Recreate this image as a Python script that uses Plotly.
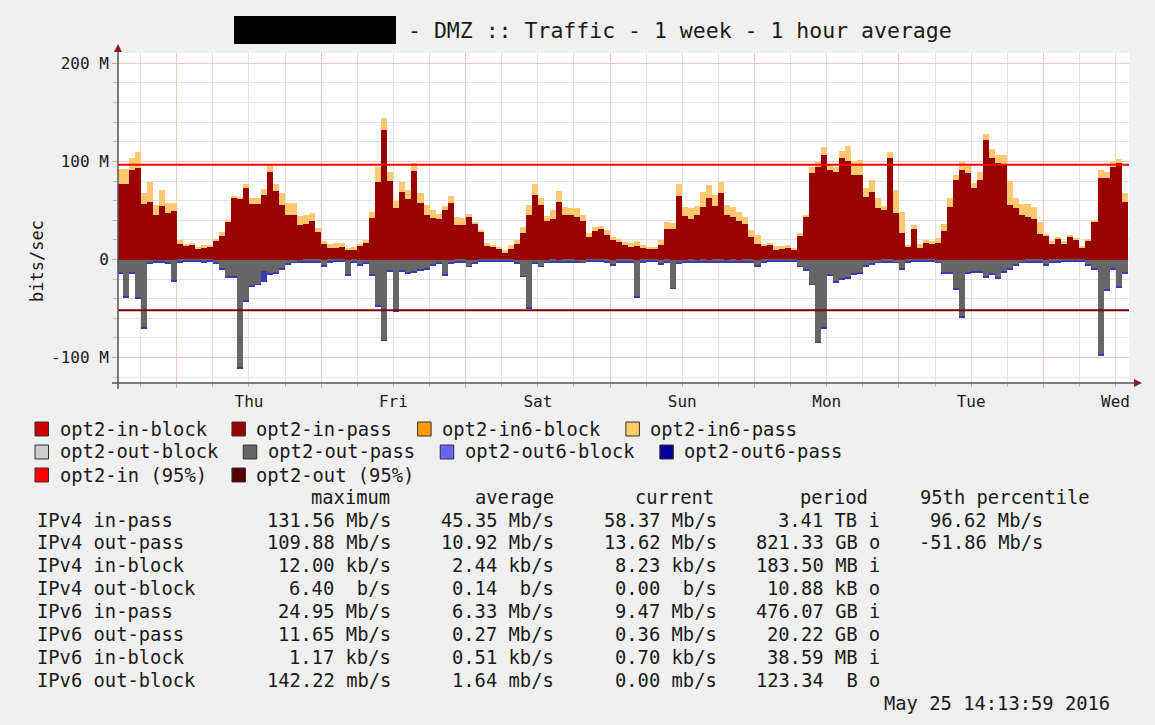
import pandas as pd
import plotly.graph_objects as go

FONT = "DejaVu Sans Mono"
TXT = "#1a1a1a"

# ---------------- data (Mb/s, one bar per hour) ----------------
hours = pd.date_range("2016-05-18 14:00", periods=168, freq="h")
range_start = "2016-05-18 14:13:59"
range_end = "2016-05-25 14:13:59"

in_pass = [
    76.6, 76.6, 91.3, 93.7, 56.1, 58.8, 45.1, 54.4, 47.9, 49.6,
    15.4, 13.7, 14.4, 10.9, 12.0, 13.0, 18.5, 23.6, 38.3, 62.2, 61.5, 72.5, 56.1, 56.1, 65.6, 88.9, 69.7, 55.4, 45.8, 45.8, 35.6, 36.6, 39.0, 28.0,
    16.1, 11.6, 11.6, 12.3, 9.2, 9.2, 13.7, 17.1, 42.4, 79.3, 131.56, 80.0, 52.6, 69.1, 61.5, 90.3, 58.1, 45.1, 42.4, 41.7, 50.3, 57.8, 35.6, 35.6,
    43.4, 36.6, 28.7, 13.7, 12.6, 10.9, 7.5, 10.9, 16.1, 27.4, 45.1, 65.6, 55.4, 39.0, 41.0, 58.8, 45.1, 45.1, 43.4, 39.0, 22.9, 28.7, 30.8, 25.3,
    19.5, 17.8, 15.0, 12.6, 13.7, 11.6, 10.3, 10.3, 15.0, 30.8, 31.5, 65.0, 44.4, 41.7, 45.8, 53.7, 62.9, 54.7, 67.4, 45.8, 43.4, 39.0, 36.6, 22.9,
    16.1, 13.7, 14.4, 9.2, 10.3, 11.6, 10.3, 23.6, 43.4, 87.9, 94.7, 106.7, 91.3, 89.6, 103.9, 100.5, 86.2, 86.2, 63.9, 69.1, 52.6, 50.3, 103.2, 47.9,
    27.4, 12.6, 31.5, 11.6, 17.1, 16.1, 17.1, 28.7, 53.7, 81.0, 91.3, 87.9, 72.5, 81.0, 122.1, 103.9, 98.1, 97.1, 55.4, 52.6, 45.8, 43.4, 41.7, 26.3,
    24.6, 16.1, 20.5, 16.1, 22.9, 19.5, 11.6, 18.5, 38.3, 82.7, 82.7, 94.7, 98.1, 58.37,
]

in6_pass = [
    15.4, 15.4, 12.6, 15.4, 11.3, 19.8, 10.3, 16.0, 9.2, 7.5,
    4.8, 2.4, 2.4, 1.7, 2.4, 2.0, 2.7, 4.4, 2.4, 2.8, 2.4, 4.1, 6.1, 6.8, 6.2, 6.8, 6.9, 12.0, 11.3, 11.3, 8.8, 9.2, 8.5, 4.1,
    2.4, 4.5, 4.8, 4.8, 2.4, 3.1, 2.4, 2.4, 6.1, 15.4, 12.3, 8.9, 6.9, 9.5, 9.3, 7.8, 9.3, 10.3, 7.9, 4.8, 4.4, 7.2, 7.8, 6.8,
    3.4, 1.7, 1.0, 3.4, 2.4, 1.7, 1.7, 3.5, 3.4, 5.8, 10.3, 11.0, 6.8, 5.4, 9.3, 10.9, 8.6, 6.9, 9.2, 6.1, 4.5, 4.5, 3.4, 4.4,
    3.4, 3.4, 2.8, 4.5, 4.8, 2.8, 2.3, 2.3, 5.2, 7.5, 6.1, 11.6, 9.3, 10.3, 8.9, 15.4, 13.0, 10.9, 11.2, 9.6, 10.3, 9.5, 6.8, 6.8,
    8.5, 2.4, 2.7, 4.5, 3.4, 2.8, 1.3, 3.8, 1.7, 6.8, 5.1, 7.5, 5.1, 5.1, 6.9, 15.7, 13.6, 15.3, 8.6, 11.9, 10.3, 4.4, 6.2, 22.9,
    21.1, 2.4, 3.4, 4.5, 2.4, 2.4, 4.8, 7.9, 9.2, 5.2, 8.5, 7.8, 5.1, 8.6, 5.8, 8.9, 8.6, 9.6, 24.95, 9.6, 10.3, 12.7, 12.0, 12.0,
    1.7, 2.4, 2.4, 2.4, 2.4, 2.4, 2.1, 2.7, 1.7, 8.6, 6.9, 5.8, 4.5, 9.47,
]

out_pass = [
    -13.7, -37.6, -13.7, -38.6, -69.4, -3.0, -2.5, -2.5, -3.0, -21.9,
    -2.0, -1.5, -1.5, -1.5, -2.0, -1.5, -3.4, -8.9, -17.8, -17.8, -109.88, -42.0, -26.7, -25.0, -11.6, -14.7, -13.0, -8.9, -4.4, -2.7, -2.4, -2.0, -2.0, -1.8,
    -6.0, -2.0, -1.5, -1.5, -15.7, -2.0, -5.5, -3.4, -15.7, -47.2, -82.1, -11.3, -52.3, -11.3, -13.7, -12.3, -10.3, -9.6, -5.5, -3.4, -15.7, -3.4, -2.0, -2.0,
    -6.8, -3.4, -1.5, -1.5, -1.2, -1.0, -1.2, -1.5, -3.0, -17.0, -48.9, -3.4, -6.8, -2.7, -2.0, -2.2, -1.8, -2.0, -2.4, -2.7, -1.5, -1.5, -1.5, -2.0,
    -5.5, -2.0, -2.0, -2.0, -37.6, -2.0, -1.5, -1.5, -4.4, -2.0, -29.1, -3.4, -2.4, -1.8, -2.2, -2.0, -2.5, -2.0, -1.8, -2.2, -2.0, -2.4, -2.0, -2.0,
    -6.2, -2.0, -1.5, -1.5, -1.5, -1.5, -1.5, -6.8, -10.3, -25.0, -84.1, -69.4, -15.7, -22.6, -19.8, -18.1, -14.7, -13.7, -6.2, -4.4, -2.7, -2.0, -2.0, -2.7,
    -8.9, -2.0, -1.5, -1.5, -1.5, -1.5, -2.7, -13.7, -13.7, -29.4, -58.1, -13.7, -12.3, -12.3, -17.1, -14.7, -18.1, -12.3, -8.9, -5.5, -2.7, -2.0, -2.0, -2.0,
    -5.5, -2.0, -2.0, -1.5, -1.5, -1.5, -1.5, -5.5, -9.6, -96.8, -30.8, -8.9, -27.4, -13.62,
]

out6_pass = [
    -0.8, -0.8, -0.8, -0.8, -0.8, -0.8, -0.8, -0.8, -0.8, -0.8,
    -0.8, -0.8, -0.8, -0.8, -0.8, -0.8, -0.8, -0.8, -0.8, -0.8, -0.8, -0.8, -0.8, -0.8, -11.65, -0.8, -0.8, -0.8, -0.8, -0.8, -0.8, -0.8, -0.8, -0.8,
    -0.8, -0.8, -0.8, -0.8, -0.8, -0.8, -0.8, -0.8, -0.8, -0.8, -0.8, -0.8, -0.8, -0.8, -0.8, -0.8, -0.8, -0.8, -0.8, -0.8, -0.8, -0.8, -0.8, -0.8,
    -0.8, -0.8, -0.8, -0.8, -0.8, -0.8, -0.8, -0.8, -0.8, -0.8, -0.8, -0.8, -0.8, -0.8, -0.8, -0.8, -0.8, -0.8, -0.8, -0.8, -0.8, -0.8, -0.8, -0.8,
    -0.8, -0.8, -0.8, -0.8, -0.8, -0.8, -0.8, -0.8, -0.8, -0.8, -0.8, -0.8, -0.8, -0.8, -0.8, -0.8, -0.8, -0.8, -0.8, -0.8, -0.8, -0.8, -0.8, -0.8,
    -0.8, -0.8, -0.8, -0.8, -0.8, -0.8, -0.8, -0.8, -0.8, -0.8, -0.8, -0.8, -0.8, -0.8, -0.8, -0.8, -0.8, -0.8, -0.8, -0.8, -0.8, -0.8, -0.8, -0.8,
    -0.8, -0.8, -0.8, -0.8, -0.8, -0.8, -0.8, -0.8, -0.8, -0.8, -0.8, -0.8, -0.8, -0.8, -0.8, -0.8, -0.8, -0.8, -0.8, -0.8, -0.8, -0.8, -0.8, -0.8,
    -0.8, -0.8, -0.8, -0.8, -0.8, -0.8, -0.8, -0.8, -0.8, -0.8, -0.8, -0.8, -0.8, -0.36,
]

p95_in = 96.62
p95_out = -51.86

y_tickvals = [-100, 0, 100, 200]
y_ticktext = ["-100 M", "0", "100 M", "200 M"]

legend_rows = [
    [("opt2-in-block", "#CC0000"), ("opt2-in-pass", "#990000"),
     ("opt2-in6-block", "#FF9900"), ("opt2-in6-pass", "#FFCC66")],
    [("opt2-out-block", "#CCCCCC"), ("opt2-out-pass", "#666666"),
     ("opt2-out6-block", "#6666FF"), ("opt2-out6-pass", "#000099")],
    [("opt2-in (95%)", "#FF0000"), ("opt2-out (95%)", "#550000")],
]

stat_headers = ["maximum", "average", "current", "period", "95th percentile"]
stat_labels = ["IPv4 in-pass", "IPv4 out-pass", "IPv4 in-block", "IPv4 out-block",
               "IPv6 in-pass", "IPv6 out-pass", "IPv6 in-block", "IPv6 out-block"]
stat_maximum = ["131.56 Mb/s", "109.88 Mb/s", "12.00 kb/s", "6.40  b/s",
                "24.95 Mb/s", "11.65 Mb/s", "1.17 kb/s", "142.22 mb/s"]
stat_average = ["45.35 Mb/s", "10.92 Mb/s", "2.44 kb/s", "0.14  b/s",
                "6.33 Mb/s", "0.27 Mb/s", "0.51 kb/s", "1.64 mb/s"]
stat_current = ["58.37 Mb/s", "13.62 Mb/s", "8.23 kb/s", "0.00  b/s",
                "9.47 Mb/s", "0.36 Mb/s", "0.70 kb/s", "0.00 mb/s"]
stat_period = ["3.41 TB i", "821.33 GB o", "183.50 MB i", "10.88 kB o",
               "476.07 GB i", "20.22 GB o", "38.59 MB i", "123.34  B o"]
stat_p95 = ["96.62 Mb/s", "-51.86 Mb/s", "", "", "", "", "", ""]
timestamp = "May 25 14:13:59 2016"
title_text = "- DMZ :: Traffic - 1 week - 1 hour average"

# ---------------- figure ----------------
W, H = 1155, 725
PL, PR, PT, PB = 118, 1129, 53, 383


def px(x):
    return (x - PL) / (PR - PL)


def py(y):
    return (PB - y) / (PB - PT)


HOUR_MS = 3600000
fig = go.Figure()
for vals, color, name in [(in_pass, "#990000", "opt2-in-pass"),
                          (in6_pass, "#FFC870", "opt2-in6-pass"),
                          (out_pass, "#666666", "opt2-out-pass"),
                          (out6_pass, "#3A3AB8", "opt2-out6-pass")]:
    fig.add_trace(go.Bar(x=hours, y=vals, width=HOUR_MS, offset=0, name=name,
                         marker=dict(color=color, line=dict(width=0)),
                         showlegend=False, hoverinfo="skip"))

fig.add_trace(go.Scatter(x=[range_start, range_end], y=[p95_in, p95_in], mode="lines",
                         line=dict(color="#FF0000", width=2), showlegend=False, hoverinfo="skip"))
fig.add_trace(go.Scatter(x=[range_start, range_end], y=[p95_out, p95_out], mode="lines",
                         line=dict(color="#7A0000", width=2), showlegend=False, hoverinfo="skip"))

shapes = []
annotations = []

# axis lines + arrows
shapes.append(dict(type="line", xref="paper", yref="paper", x0=px(112), x1=px(1136),
                   y0=py(383), y1=py(383), line=dict(color="#555555", width=1.5)))
shapes.append(dict(type="line", xref="paper", yref="paper", x0=px(118), x1=px(118),
                   y0=py(389), y1=py(50), line=dict(color="#555555", width=1.5)))
shapes.append(dict(type="path", xref="paper", yref="paper",
                   path=f"M {px(1134)} {py(379)} L {px(1142)} {py(383)} L {px(1134)} {py(387)} Z",
                   fillcolor="#8B1A1A", line=dict(width=0)))
shapes.append(dict(type="path", xref="paper", yref="paper",
                   path=f"M {px(114)} {py(52)} L {px(118)} {py(44)} L {px(122)} {py(52)} Z",
                   fillcolor="#8B1A1A", line=dict(width=0)))

# title with redaction box
shapes.append(dict(type="rect", xref="paper", yref="paper", x0=px(234), x1=px(396),
                   y0=py(44), y1=py(16), fillcolor="#000000", line=dict(width=0)))
annotations.append(dict(x=px(406), y=py(30), xref="paper", yref="paper", text=title_text,
                        showarrow=False, xanchor="left", yanchor="middle",
                        font=dict(family=FONT, size=21.5, color=TXT)))

# y axis title
annotations.append(dict(x=px(37), y=py(261), xref="paper", yref="paper", text="bits/sec",
                        showarrow=False, textangle=-90, xanchor="center", yanchor="middle",
                        font=dict(family=FONT, size=17, color=TXT)))

# legend (drawn manually, RRD style)
CW = 11.32
for r, row in enumerate(legend_rows):
    yc = 429 + 23 * r
    x = 35
    for name, color in row:
        shapes.append(dict(type="rect", xref="paper", yref="paper", x0=px(x), x1=px(x + 13.5),
                           y0=py(yc + 7), y1=py(yc - 7), fillcolor=color,
                           line=dict(color="#333333", width=1)))
        annotations.append(dict(x=px(x + 22.5), y=py(yc), xref="paper", yref="paper", text=name,
                                showarrow=False, xanchor="left", yanchor="middle",
                                font=dict(family=FONT, size=18.8, color=TXT)))
        x = x + 22.5 + len(name) * CW + 27.3

# stats table
header_x = [309, 473, 633, 798, 918]
for hx, ht in zip(header_x, stat_headers):
    annotations.append(dict(x=px(hx), y=py(497), xref="paper", yref="paper", text=ht,
                            showarrow=False, xanchor="left", yanchor="middle",
                            font=dict(family=FONT, size=18.8, color=TXT)))
col_right = [393, 556, 719, 882, 1045]
for i, lab in enumerate(stat_labels):
    yc = 520 + 22.9 * i
    annotations.append(dict(x=px(35), y=py(yc), xref="paper", yref="paper", text=lab,
                            showarrow=False, xanchor="left", yanchor="middle",
                            font=dict(family=FONT, size=18.8, color=TXT)))
    for cx, col in zip(col_right, [stat_maximum, stat_average, stat_current, stat_period, stat_p95]):
        if col[i]:
            annotations.append(dict(x=px(cx), y=py(yc), xref="paper", yref="paper",
                                    text=col[i].replace(" ", "\u00a0"),
                                    showarrow=False, xanchor="right", yanchor="middle",
                                    font=dict(family=FONT, size=18.8, color=TXT)))
annotations.append(dict(x=px(1112), y=py(703), xref="paper", yref="paper", text=timestamp,
                        showarrow=False, xanchor="right", yanchor="middle",
                        font=dict(family=FONT, size=18.8, color=TXT)))

fig.update_layout(
    width=W, height=H,
    margin=dict(l=PL, r=W - PR, t=PT, b=H - PB, pad=0),
    paper_bgcolor="#F0F0F0", plot_bgcolor="#FFFFFF",
    barmode="relative", bargap=0,
    shapes=shapes, annotations=annotations,
    xaxis=dict(type="date", range=[range_start, range_end],
               tick0="2016-05-19", dtick=86400000, tickformat="%a", ticklabelmode="period",
               showgrid=True, gridcolor="#F6C4C4", gridwidth=1,
               ticks="outside", ticklen=4, tickcolor="#E8A0A0",
               tickfont=dict(family=FONT, size=16, color=TXT),
               minor=dict(tick0="2016-05-19", dtick=6 * HOUR_MS, showgrid=True, gridcolor="#E2E2E2",
                          ticks="outside", ticklen=3, tickcolor="#BBBBBB"),
               showline=False, zeroline=False, fixedrange=True),
    yaxis=dict(range=[-125.9, 210.5], tickmode="array", tickvals=y_tickvals, ticktext=y_ticktext,
               showgrid=True, gridcolor="#F6C4C4", gridwidth=1,
               ticks="outside", ticklen=5, tickcolor="#E8A0A0",
               tickfont=dict(family=FONT, size=16, color=TXT),
               minor=dict(tickmode="linear", tick0=0, dtick=20, showgrid=True, gridcolor="#E2E2E2",
                          ticks="outside", ticklen=4, tickcolor="#BBBBBB"),
               showline=False, zeroline=False, fixedrange=True),
)

fig.write_html("out.html", config={"displayModeBar": False},
               post_script="document.body.style.margin='0px';")
